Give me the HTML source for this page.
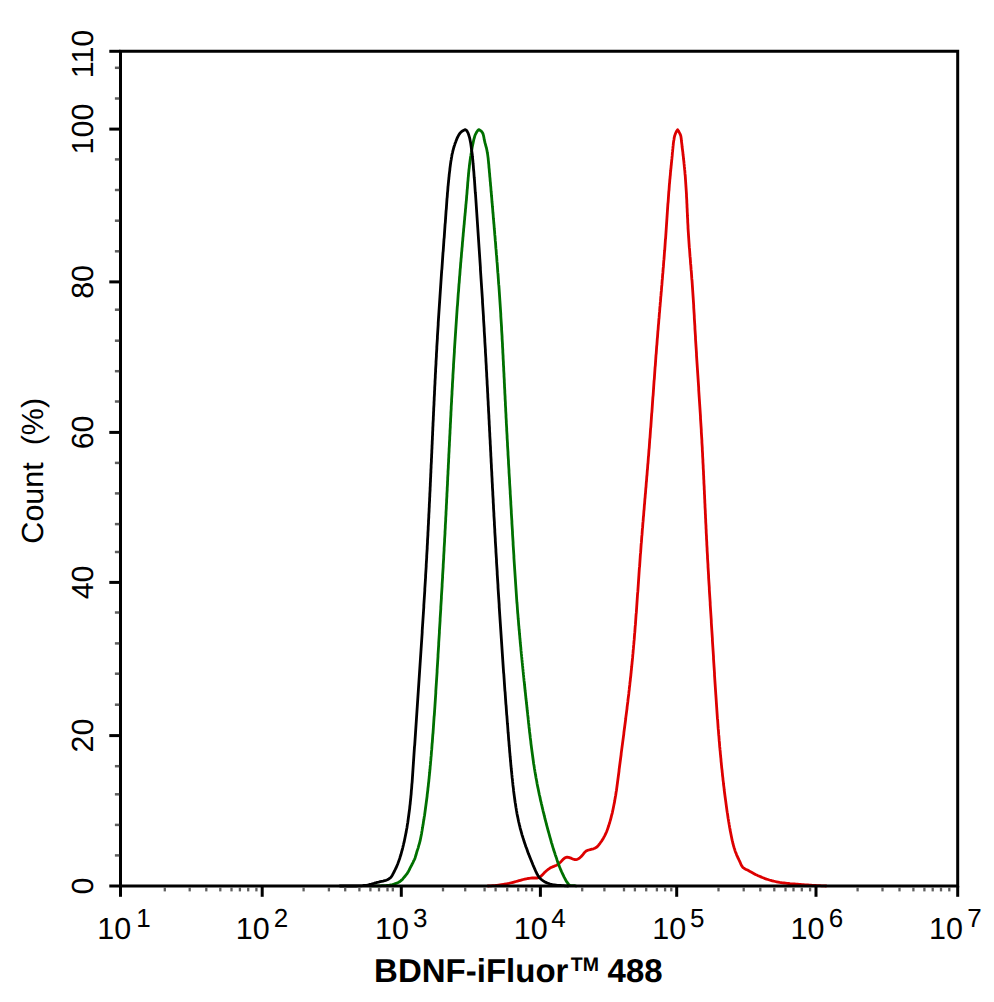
<!DOCTYPE html>
<html><head><meta charset="utf-8"><title>BDNF-iFluor 488 flow cytometry histogram</title><style>
html,body{margin:0;padding:0;background:#fff;width:994px;height:1002px;overflow:hidden}
body{font-family:"Liberation Sans",sans-serif}
svg{display:block;position:absolute;left:0;top:0}
</style></head><body>
<svg width="994" height="1002" viewBox="0 0 994 1002">
<g fill="none" stroke-width="2.80" stroke-linejoin="round" stroke-linecap="round">
<path d="M488.0,886.0 L489.5,885.9 L491.0,885.8 L492.5,885.7 L494.0,885.6 L495.5,885.5 L497.0,885.3 L498.5,885.1 L500.0,884.9 L501.5,884.7 L502.9,884.5 L504.4,884.2 L505.9,884.0 L507.4,883.7 L508.8,883.4 L510.3,883.0 L511.8,882.7 L513.2,882.3 L514.7,881.9 L516.1,881.5 L517.6,881.1 L519.0,880.7 L520.4,880.3 L521.9,879.9 L523.3,879.5 L524.8,879.1 L526.3,878.8 L527.7,878.5 L529.2,878.3 L530.7,878.1 L532.2,878.0 L533.7,878.0 L535.3,878.0 L536.8,878.0 L538.2,877.8 L539.5,877.3 L540.7,876.4 L541.9,875.4 L543.0,874.2 L544.0,873.1 L545.1,872.0 L546.2,871.0 L547.4,870.0 L548.5,869.1 L549.7,868.3 L551.0,867.6 L552.4,866.9 L553.8,866.4 L555.2,865.8 L556.6,865.2 L557.9,864.4 L559.0,863.5 L560.1,862.5 L561.2,861.4 L562.3,860.2 L563.4,859.1 L564.6,858.1 L565.9,857.4 L567.2,857.1 L568.6,857.3 L570.1,857.8 L571.5,858.4 L573.0,859.1 L574.4,859.5 L575.9,859.6 L577.2,859.3 L578.6,858.7 L579.8,857.8 L581.0,856.7 L582.1,855.5 L583.1,854.3 L584.0,853.1 L585.0,852.0 L586.1,851.1 L587.4,850.4 L588.8,850.0 L590.3,849.6 L591.9,849.2 L593.4,848.8 L594.8,848.3 L596.1,847.6 L597.2,846.7 L598.2,845.6 L599.1,844.5 L600.0,843.3 L600.9,842.0 L601.8,840.8 L602.6,839.5 L603.4,838.2 L604.1,836.9 L604.8,835.6 L605.5,834.2 L606.1,832.8 L606.7,831.5 L607.2,830.1 L607.7,828.7 L608.2,827.2 L608.7,825.8 L609.1,824.4 L609.6,823.0 L610.0,821.5 L610.4,820.1 L610.8,818.6 L611.2,817.2 L611.5,815.7 L611.9,814.3 L612.3,812.8 L612.6,811.4 L612.9,809.9 L613.2,808.4 L613.5,807.0 L613.8,805.5 L614.1,804.0 L614.4,802.6 L614.7,801.1 L614.9,799.6 L615.2,798.1 L615.4,796.6 L615.7,795.2 L615.9,793.7 L616.1,792.2 L616.4,790.7 L616.6,789.2 L616.8,787.7 L617.0,786.2 L617.2,784.7 L617.4,783.2 L617.6,781.8 L617.8,780.3 L618.0,778.8 L618.2,777.3 L618.4,775.8 L618.6,774.3 L618.8,772.8 L619.0,771.3 L619.1,769.8 L619.3,768.3 L619.5,766.8 L619.7,765.3 L619.9,763.8 L620.1,762.3 L620.3,760.8 L620.5,759.3 L620.7,757.8 L620.9,756.3 L621.1,754.8 L621.2,753.4 L621.4,751.9 L621.6,750.4 L621.8,748.9 L622.0,747.4 L622.2,745.9 L622.4,744.4 L622.6,742.9 L622.8,741.4 L623.0,739.9 L623.2,738.4 L623.4,736.9 L623.6,735.4 L623.8,734.0 L623.9,732.5 L624.1,731.0 L624.3,729.5 L624.5,728.0 L624.7,726.5 L624.9,725.0 L625.1,723.5 L625.3,722.0 L625.5,720.5 L625.7,719.0 L625.8,717.6 L626.0,716.1 L626.2,714.6 L626.4,713.1 L626.6,711.6 L626.8,710.1 L627.0,708.6 L627.1,707.1 L627.3,705.6 L627.5,704.1 L627.7,702.6 L627.9,701.2 L628.0,699.7 L628.2,698.2 L628.4,696.7 L628.6,695.2 L628.8,693.7 L628.9,692.2 L629.1,690.7 L629.3,689.2 L629.4,687.7 L629.6,686.2 L629.8,684.7 L629.9,683.3 L630.1,681.8 L630.3,680.3 L630.4,678.8 L630.6,677.3 L630.8,675.8 L630.9,674.3 L631.1,672.8 L631.2,671.3 L631.4,669.8 L631.5,668.3 L631.7,666.8 L631.8,665.3 L632.0,663.8 L632.1,662.3 L632.3,660.8 L632.4,659.4 L632.6,657.9 L632.7,656.4 L632.8,654.9 L633.0,653.4 L633.1,651.9 L633.2,650.4 L633.4,648.9 L633.5,647.4 L633.6,645.9 L633.8,644.4 L633.9,642.9 L634.0,641.4 L634.2,639.9 L634.3,638.4 L634.4,636.9 L634.5,635.4 L634.6,633.9 L634.8,632.4 L634.9,630.9 L635.0,629.4 L635.1,627.9 L635.2,626.4 L635.4,624.9 L635.5,623.4 L635.6,621.9 L635.7,620.4 L635.8,618.9 L635.9,617.4 L636.0,615.9 L636.1,614.4 L636.3,612.9 L636.4,611.4 L636.5,609.9 L636.6,608.4 L636.7,606.9 L636.8,605.4 L636.9,603.9 L637.0,602.4 L637.1,600.9 L637.2,599.4 L637.3,597.9 L637.4,596.4 L637.5,594.9 L637.6,593.4 L637.8,591.9 L637.9,590.4 L638.0,588.9 L638.1,587.4 L638.2,585.9 L638.3,584.4 L638.4,582.9 L638.5,581.4 L638.6,579.9 L638.7,578.4 L638.8,576.9 L638.9,575.4 L639.0,573.9 L639.1,572.4 L639.2,570.9 L639.3,569.4 L639.4,567.9 L639.6,566.4 L639.7,564.9 L639.8,563.4 L639.9,561.9 L640.0,560.4 L640.1,558.9 L640.2,557.4 L640.3,555.9 L640.4,554.4 L640.6,552.9 L640.7,551.4 L640.8,549.9 L640.9,548.4 L641.0,546.9 L641.1,545.4 L641.2,543.9 L641.4,542.4 L641.5,540.9 L641.6,539.4 L641.7,537.9 L641.8,536.4 L642.0,534.9 L642.1,533.4 L642.2,531.9 L642.3,530.4 L642.4,528.9 L642.6,527.4 L642.7,525.9 L642.8,524.4 L642.9,522.9 L643.1,521.4 L643.2,519.9 L643.3,518.4 L643.4,517.0 L643.6,515.5 L643.7,514.0 L643.8,512.5 L643.9,511.0 L644.1,509.5 L644.2,508.0 L644.3,506.5 L644.4,505.0 L644.6,503.5 L644.7,502.0 L644.8,500.5 L644.9,499.0 L645.1,497.5 L645.2,496.0 L645.3,494.5 L645.5,493.0 L645.6,491.5 L645.7,490.0 L645.8,488.5 L646.0,487.0 L646.1,485.5 L646.2,484.0 L646.3,482.5 L646.5,481.0 L646.6,479.5 L646.7,478.0 L646.8,476.5 L647.0,475.0 L647.1,473.5 L647.2,472.0 L647.3,470.5 L647.5,469.0 L647.6,467.5 L647.7,466.0 L647.8,464.5 L648.0,463.0 L648.1,461.5 L648.2,460.0 L648.3,458.5 L648.4,457.0 L648.6,455.6 L648.7,454.1 L648.8,452.6 L648.9,451.1 L649.0,449.6 L649.2,448.1 L649.3,446.6 L649.4,445.1 L649.5,443.6 L649.6,442.1 L649.7,440.6 L649.8,439.1 L650.0,437.6 L650.1,436.1 L650.2,434.6 L650.3,433.1 L650.4,431.6 L650.5,430.1 L650.6,428.6 L650.8,427.1 L650.9,425.6 L651.0,424.1 L651.1,422.6 L651.2,421.1 L651.3,419.6 L651.4,418.1 L651.5,416.6 L651.6,415.1 L651.7,413.6 L651.9,412.1 L652.0,410.6 L652.1,409.1 L652.2,407.6 L652.3,406.1 L652.4,404.6 L652.5,403.1 L652.6,401.6 L652.7,400.1 L652.8,398.6 L652.9,397.1 L653.1,395.6 L653.2,394.1 L653.3,392.6 L653.4,391.1 L653.5,389.6 L653.6,388.1 L653.7,386.6 L653.8,385.1 L653.9,383.6 L654.0,382.1 L654.1,380.6 L654.3,379.1 L654.4,377.6 L654.5,376.1 L654.6,374.6 L654.7,373.1 L654.8,371.6 L654.9,370.1 L655.0,368.6 L655.1,367.1 L655.3,365.6 L655.4,364.1 L655.5,362.6 L655.6,361.1 L655.7,359.6 L655.8,358.1 L655.9,356.6 L656.0,355.1 L656.2,353.6 L656.3,352.1 L656.4,350.6 L656.5,349.1 L656.6,347.6 L656.7,346.1 L656.9,344.6 L657.0,343.1 L657.1,341.6 L657.2,340.1 L657.3,338.6 L657.5,337.1 L657.6,335.6 L657.7,334.1 L657.8,332.6 L657.9,331.1 L658.1,329.6 L658.2,328.1 L658.3,326.6 L658.4,325.1 L658.6,323.6 L658.7,322.2 L658.8,320.7 L658.9,319.2 L659.1,317.7 L659.2,316.2 L659.3,314.7 L659.4,313.2 L659.6,311.7 L659.7,310.2 L659.8,308.7 L659.9,307.2 L660.1,305.7 L660.2,304.2 L660.3,302.7 L660.5,301.2 L660.6,299.7 L660.7,298.2 L660.8,296.7 L661.0,295.2 L661.1,293.7 L661.2,292.2 L661.4,290.7 L661.5,289.2 L661.6,287.7 L661.7,286.2 L661.9,284.7 L662.0,283.2 L662.1,281.7 L662.2,280.2 L662.4,278.7 L662.5,277.2 L662.6,275.7 L662.7,274.2 L662.9,272.7 L663.0,271.2 L663.1,269.7 L663.2,268.2 L663.4,266.7 L663.5,265.2 L663.6,263.7 L663.7,262.2 L663.8,260.7 L664.0,259.2 L664.1,257.7 L664.2,256.3 L664.3,254.8 L664.4,253.3 L664.5,251.8 L664.7,250.3 L664.8,248.8 L664.9,247.3 L665.0,245.8 L665.1,244.3 L665.2,242.8 L665.3,241.3 L665.4,239.8 L665.6,238.3 L665.7,236.8 L665.8,235.3 L665.9,233.8 L666.0,232.3 L666.1,230.8 L666.2,229.3 L666.3,227.8 L666.4,226.3 L666.5,224.8 L666.6,223.3 L666.7,221.8 L666.8,220.3 L666.9,218.8 L667.0,217.3 L667.1,215.8 L667.2,214.3 L667.3,212.8 L667.4,211.3 L667.5,209.8 L667.6,208.3 L667.7,206.8 L667.8,205.3 L667.9,203.8 L668.1,202.3 L668.2,200.8 L668.3,199.3 L668.4,197.8 L668.5,196.3 L668.6,194.8 L668.7,193.3 L668.8,191.8 L669.0,190.3 L669.1,188.8 L669.2,187.3 L669.3,185.8 L669.4,184.3 L669.6,182.8 L669.7,181.3 L669.8,179.8 L670.0,178.3 L670.1,176.8 L670.3,175.3 L670.4,173.8 L670.5,172.3 L670.7,170.8 L670.8,169.3 L671.0,167.8 L671.1,166.3 L671.3,164.8 L671.4,163.3 L671.6,161.8 L671.7,160.3 L671.9,158.9 L672.0,157.4 L672.2,155.9 L672.3,154.4 L672.4,152.9 L672.6,151.4 L672.7,149.9 L672.9,148.4 L673.0,146.9 L673.2,145.4 L673.3,143.9 L673.5,142.4 L673.7,140.9 L674.0,139.4 L674.2,137.9 L674.5,136.5 L674.9,135.1 L675.4,133.7 L676.0,132.3 L676.7,131.0 L677.6,129.7 L678.5,131.0 L679.2,132.3 L679.9,133.6 L680.5,135.0 L680.9,136.4 L681.1,137.8 L681.3,139.3 L681.4,140.8 L681.6,142.3 L681.8,143.8 L682.0,145.3 L682.1,146.8 L682.3,148.3 L682.5,149.8 L682.7,151.3 L682.9,152.8 L683.0,154.3 L683.2,155.8 L683.4,157.3 L683.5,158.8 L683.7,160.2 L683.9,161.7 L684.0,163.2 L684.2,164.7 L684.3,166.2 L684.5,167.7 L684.6,169.2 L684.8,170.7 L684.9,172.2 L685.0,173.7 L685.2,175.2 L685.3,176.7 L685.4,178.2 L685.5,179.7 L685.6,181.2 L685.7,182.7 L685.8,184.2 L685.9,185.7 L686.0,187.2 L686.1,188.7 L686.2,190.2 L686.3,191.7 L686.4,193.2 L686.5,194.7 L686.5,196.2 L686.6,197.7 L686.7,199.2 L686.8,200.7 L686.8,202.2 L686.9,203.7 L687.0,205.2 L687.0,206.7 L687.1,208.2 L687.2,209.7 L687.2,211.2 L687.3,212.7 L687.4,214.2 L687.4,215.7 L687.5,217.2 L687.6,218.7 L687.7,220.2 L687.7,221.7 L687.8,223.2 L687.9,224.7 L688.0,226.2 L688.0,227.7 L688.1,229.2 L688.2,230.7 L688.3,232.2 L688.4,233.7 L688.5,235.2 L688.6,236.7 L688.7,238.2 L688.8,239.7 L688.9,241.2 L689.0,242.7 L689.1,244.2 L689.2,245.7 L689.3,247.2 L689.5,248.7 L689.6,250.2 L689.7,251.7 L689.8,253.2 L689.9,254.7 L690.0,256.2 L690.2,257.7 L690.3,259.2 L690.4,260.7 L690.5,262.2 L690.6,263.7 L690.8,265.2 L690.9,266.7 L691.0,268.2 L691.1,269.7 L691.3,271.2 L691.4,272.7 L691.5,274.2 L691.6,275.7 L691.7,277.2 L691.8,278.7 L692.0,280.2 L692.1,281.7 L692.2,283.2 L692.3,284.7 L692.4,286.2 L692.5,287.7 L692.6,289.2 L692.7,290.7 L692.8,292.2 L692.9,293.7 L693.0,295.2 L693.1,296.7 L693.2,298.2 L693.3,299.7 L693.4,301.2 L693.5,302.7 L693.6,304.2 L693.7,305.7 L693.7,307.2 L693.8,308.7 L693.9,310.2 L694.0,311.7 L694.1,313.2 L694.2,314.7 L694.3,316.2 L694.3,317.7 L694.4,319.2 L694.5,320.7 L694.6,322.2 L694.7,323.7 L694.8,325.2 L694.9,326.7 L694.9,328.2 L695.0,329.7 L695.1,331.2 L695.2,332.7 L695.3,334.2 L695.4,335.7 L695.5,337.2 L695.5,338.7 L695.6,340.2 L695.7,341.7 L695.8,343.2 L695.9,344.7 L696.0,346.2 L696.1,347.7 L696.2,349.2 L696.3,350.7 L696.4,352.2 L696.5,353.7 L696.5,355.2 L696.6,356.7 L696.7,358.2 L696.8,359.7 L696.9,361.2 L697.0,362.7 L697.1,364.2 L697.2,365.7 L697.3,367.2 L697.4,368.7 L697.5,370.2 L697.6,371.7 L697.7,373.2 L697.8,374.7 L697.9,376.2 L698.0,377.7 L698.1,379.2 L698.2,380.7 L698.3,382.2 L698.4,383.7 L698.5,385.2 L698.6,386.7 L698.7,388.2 L698.7,389.7 L698.8,391.2 L698.9,392.7 L699.0,394.2 L699.1,395.7 L699.2,397.2 L699.3,398.7 L699.4,400.2 L699.5,401.7 L699.6,403.2 L699.7,404.7 L699.8,406.2 L699.9,407.7 L700.0,409.2 L700.1,410.7 L700.2,412.2 L700.3,413.7 L700.4,415.2 L700.5,416.7 L700.5,418.2 L700.6,419.7 L700.7,421.2 L700.8,422.7 L700.9,424.2 L701.0,425.7 L701.1,427.2 L701.2,428.7 L701.3,430.2 L701.3,431.7 L701.4,433.2 L701.5,434.7 L701.6,436.2 L701.7,437.7 L701.8,439.2 L701.9,440.7 L701.9,442.2 L702.0,443.7 L702.1,445.2 L702.2,446.7 L702.3,448.2 L702.3,449.7 L702.4,451.2 L702.5,452.7 L702.6,454.2 L702.6,455.7 L702.7,457.2 L702.8,458.7 L702.9,460.2 L702.9,461.7 L703.0,463.2 L703.1,464.7 L703.2,466.2 L703.2,467.7 L703.3,469.2 L703.4,470.7 L703.5,472.2 L703.5,473.7 L703.6,475.2 L703.7,476.7 L703.7,478.2 L703.8,479.7 L703.9,481.2 L703.9,482.7 L704.0,484.2 L704.1,485.7 L704.2,487.2 L704.2,488.7 L704.3,490.2 L704.4,491.7 L704.4,493.2 L704.5,494.7 L704.6,496.2 L704.6,497.7 L704.7,499.2 L704.8,500.7 L704.8,502.2 L704.9,503.7 L705.0,505.2 L705.0,506.7 L705.1,508.2 L705.2,509.7 L705.3,511.2 L705.3,512.7 L705.4,514.2 L705.5,515.7 L705.5,517.2 L705.6,518.7 L705.7,520.2 L705.7,521.7 L705.8,523.2 L705.9,524.7 L706.0,526.2 L706.0,527.7 L706.1,529.2 L706.2,530.7 L706.2,532.2 L706.3,533.7 L706.4,535.2 L706.5,536.7 L706.5,538.2 L706.6,539.7 L706.7,541.2 L706.8,542.7 L706.8,544.2 L706.9,545.7 L707.0,547.2 L707.1,548.7 L707.1,550.2 L707.2,551.7 L707.3,553.2 L707.4,554.7 L707.5,556.2 L707.5,557.7 L707.6,559.2 L707.7,560.7 L707.8,562.2 L707.9,563.7 L708.0,565.2 L708.0,566.7 L708.1,568.2 L708.2,569.7 L708.3,571.2 L708.4,572.8 L708.5,574.3 L708.6,575.8 L708.6,577.3 L708.7,578.8 L708.8,580.3 L708.9,581.8 L709.0,583.3 L709.1,584.8 L709.2,586.3 L709.3,587.8 L709.3,589.3 L709.4,590.8 L709.5,592.3 L709.6,593.8 L709.7,595.3 L709.8,596.8 L709.9,598.3 L710.0,599.8 L710.1,601.3 L710.2,602.8 L710.2,604.3 L710.3,605.8 L710.4,607.3 L710.5,608.8 L710.6,610.3 L710.7,611.8 L710.8,613.3 L710.9,614.8 L711.0,616.3 L711.1,617.8 L711.2,619.3 L711.3,620.8 L711.3,622.3 L711.4,623.8 L711.5,625.3 L711.6,626.8 L711.7,628.3 L711.8,629.8 L711.9,631.3 L712.0,632.8 L712.1,634.3 L712.2,635.8 L712.3,637.3 L712.4,638.8 L712.4,640.3 L712.5,641.8 L712.6,643.3 L712.7,644.8 L712.8,646.3 L712.9,647.8 L713.0,649.3 L713.1,650.8 L713.2,652.3 L713.3,653.8 L713.4,655.3 L713.5,656.8 L713.5,658.3 L713.6,659.8 L713.7,661.3 L713.8,662.8 L713.9,664.3 L714.0,665.8 L714.1,667.3 L714.2,668.8 L714.3,670.3 L714.4,671.8 L714.5,673.3 L714.5,674.8 L714.6,676.3 L714.7,677.8 L714.8,679.3 L714.9,680.8 L715.0,682.3 L715.1,683.8 L715.2,685.3 L715.3,686.8 L715.4,688.3 L715.5,689.8 L715.6,691.3 L715.7,692.8 L715.8,694.3 L715.9,695.7 L716.0,697.2 L716.1,698.7 L716.2,700.2 L716.3,701.7 L716.4,703.2 L716.5,704.7 L716.6,706.2 L716.7,707.7 L716.8,709.2 L716.9,710.7 L717.0,712.2 L717.1,713.7 L717.2,715.2 L717.3,716.7 L717.4,718.2 L717.6,719.7 L717.7,721.2 L717.8,722.7 L717.9,724.2 L718.0,725.7 L718.1,727.2 L718.2,728.7 L718.4,730.2 L718.5,731.7 L718.6,733.2 L718.7,734.7 L718.9,736.2 L719.0,737.7 L719.1,739.2 L719.2,740.7 L719.4,742.2 L719.5,743.7 L719.6,745.2 L719.7,746.7 L719.9,748.2 L720.0,749.7 L720.2,751.2 L720.3,752.6 L720.4,754.1 L720.6,755.6 L720.7,757.1 L720.9,758.6 L721.0,760.1 L721.1,761.6 L721.3,763.1 L721.4,764.6 L721.6,766.1 L721.7,767.6 L721.9,769.1 L722.1,770.6 L722.2,772.1 L722.4,773.6 L722.5,775.1 L722.7,776.6 L722.9,778.1 L723.0,779.6 L723.2,781.1 L723.4,782.6 L723.5,784.0 L723.7,785.5 L723.9,787.0 L724.1,788.5 L724.2,790.0 L724.4,791.5 L724.6,793.0 L724.8,794.5 L725.0,796.0 L725.2,797.5 L725.4,799.0 L725.6,800.4 L725.8,801.9 L726.0,803.4 L726.2,804.9 L726.4,806.4 L726.6,807.9 L726.8,809.4 L727.0,810.9 L727.2,812.3 L727.5,813.8 L727.7,815.3 L727.9,816.8 L728.1,818.3 L728.4,819.8 L728.6,821.2 L728.9,822.7 L729.1,824.2 L729.4,825.7 L729.6,827.2 L729.9,828.6 L730.1,830.1 L730.4,831.6 L730.7,833.1 L731.0,834.6 L731.3,836.0 L731.6,837.5 L731.9,839.0 L732.2,840.4 L732.6,841.9 L732.9,843.4 L733.3,844.8 L733.7,846.3 L734.1,847.7 L734.6,849.1 L735.0,850.6 L735.5,852.0 L736.1,853.4 L736.6,854.8 L737.2,856.1 L737.8,857.5 L738.5,858.9 L739.1,860.2 L739.8,861.6 L740.4,863.0 L741.0,864.4 L741.7,865.8 L742.5,866.9 L743.5,867.9 L744.8,868.7 L746.1,869.4 L747.5,870.1 L748.8,870.8 L750.1,871.6 L751.5,872.3 L752.8,873.0 L754.1,873.7 L755.4,874.4 L756.8,875.1 L758.1,875.7 L759.5,876.3 L760.9,876.9 L762.3,877.5 L763.7,878.0 L765.1,878.6 L766.5,879.1 L767.9,879.5 L769.4,880.0 L770.8,880.4 L772.2,880.8 L773.7,881.2 L775.2,881.5 L776.6,881.8 L778.1,882.1 L779.6,882.4 L781.0,882.6 L782.5,882.8 L784.0,883.0 L785.5,883.2 L787.0,883.4 L788.5,883.5 L790.0,883.7 L791.5,883.8 L793.0,883.9 L794.5,884.0 L796.0,884.1 L797.5,884.2 L799.0,884.4 L800.5,884.5 L802.0,884.6 L803.5,884.7 L805.0,884.8 L806.5,884.9 L808.0,885.0 L809.5,885.1 L811.0,885.2 L812.5,885.3 L814.0,885.4 L815.5,885.5 L817.0,885.6 L818.5,885.7 L820.0,885.7 L821.5,885.8 L823.0,885.9 L824.5,885.9 L826.0,886.0" stroke="#dd0000" />
<path d="M370.0,886.0 L371.5,885.9 L373.0,885.9 L374.5,885.9 L376.0,885.8 L377.5,885.8 L379.0,885.8 L380.5,885.8 L382.0,885.7 L383.5,885.7 L385.0,885.6 L386.5,885.5 L388.0,885.3 L389.5,885.1 L391.0,884.8 L392.5,884.5 L393.9,884.1 L395.4,883.6 L396.8,883.1 L398.2,882.5 L399.5,881.8 L400.7,880.9 L401.8,879.9 L402.8,878.9 L403.8,877.7 L404.8,876.5 L405.7,875.4 L406.7,874.2 L407.5,872.9 L408.3,871.7 L409.0,870.3 L409.7,869.0 L410.3,867.7 L411.0,866.3 L411.7,865.0 L412.4,863.6 L413.1,862.3 L413.7,860.9 L414.4,859.6 L415.0,858.2 L415.4,856.8 L415.9,855.3 L416.3,853.9 L416.7,852.4 L417.1,851.0 L417.6,849.6 L418.1,848.1 L418.5,846.7 L418.9,845.2 L419.3,843.8 L419.7,842.3 L420.1,840.9 L420.4,839.4 L420.7,837.9 L421.0,836.5 L421.3,835.0 L421.6,833.5 L421.8,832.0 L422.1,830.5 L422.3,829.1 L422.6,827.6 L422.8,826.1 L423.1,824.6 L423.3,823.1 L423.5,821.6 L423.8,820.1 L424.0,818.7 L424.2,817.2 L424.5,815.7 L424.7,814.2 L424.9,812.7 L425.1,811.2 L425.3,809.7 L425.5,808.2 L425.7,806.7 L425.9,805.2 L426.1,803.8 L426.3,802.3 L426.5,800.8 L426.7,799.3 L426.9,797.8 L427.1,796.3 L427.2,794.8 L427.4,793.3 L427.6,791.8 L427.8,790.3 L427.9,788.8 L428.1,787.3 L428.3,785.8 L428.4,784.3 L428.6,782.8 L428.8,781.3 L428.9,779.8 L429.1,778.3 L429.2,776.8 L429.4,775.3 L429.5,773.8 L429.7,772.3 L429.8,770.8 L430.0,769.3 L430.1,767.9 L430.2,766.4 L430.4,764.9 L430.5,763.4 L430.6,761.9 L430.8,760.4 L430.9,758.9 L431.0,757.4 L431.2,755.9 L431.3,754.4 L431.4,752.9 L431.5,751.4 L431.7,749.9 L431.8,748.3 L431.9,746.8 L432.0,745.3 L432.1,743.8 L432.3,742.3 L432.4,740.8 L432.5,739.3 L432.6,737.8 L432.7,736.3 L432.8,734.8 L433.0,733.3 L433.1,731.8 L433.2,730.3 L433.3,728.8 L433.4,727.3 L433.5,725.8 L433.6,724.3 L433.7,722.8 L433.8,721.3 L433.9,719.8 L434.0,718.3 L434.1,716.8 L434.3,715.3 L434.4,713.8 L434.5,712.3 L434.6,710.8 L434.7,709.3 L434.8,707.8 L434.9,706.3 L435.0,704.8 L435.1,703.3 L435.2,701.8 L435.3,700.3 L435.4,698.8 L435.5,697.3 L435.6,695.8 L435.7,694.3 L435.8,692.8 L435.8,691.3 L435.9,689.8 L436.0,688.3 L436.1,686.8 L436.2,685.3 L436.3,683.8 L436.4,682.3 L436.5,680.8 L436.6,679.3 L436.7,677.8 L436.8,676.3 L436.9,674.8 L437.0,673.3 L437.1,671.8 L437.1,670.3 L437.2,668.8 L437.3,667.3 L437.4,665.8 L437.5,664.3 L437.6,662.8 L437.7,661.2 L437.8,659.7 L437.9,658.2 L438.0,656.7 L438.0,655.2 L438.1,653.7 L438.2,652.2 L438.3,650.7 L438.4,649.2 L438.5,647.7 L438.6,646.2 L438.7,644.7 L438.7,643.2 L438.8,641.7 L438.9,640.2 L439.0,638.7 L439.1,637.2 L439.2,635.7 L439.3,634.2 L439.4,632.7 L439.4,631.2 L439.5,629.7 L439.6,628.2 L439.7,626.7 L439.8,625.2 L439.9,623.7 L440.0,622.2 L440.1,620.7 L440.1,619.2 L440.2,617.7 L440.3,616.2 L440.4,614.7 L440.5,613.2 L440.6,611.7 L440.7,610.2 L440.8,608.7 L440.8,607.2 L440.9,605.7 L441.0,604.2 L441.1,602.7 L441.2,601.1 L441.3,599.6 L441.4,598.1 L441.4,596.6 L441.5,595.1 L441.6,593.6 L441.7,592.1 L441.8,590.6 L441.9,589.1 L442.0,587.6 L442.1,586.1 L442.1,584.6 L442.2,583.1 L442.3,581.6 L442.4,580.1 L442.5,578.6 L442.6,577.1 L442.6,575.6 L442.7,574.1 L442.8,572.6 L442.9,571.1 L443.0,569.6 L443.1,568.1 L443.2,566.6 L443.2,565.1 L443.3,563.6 L443.4,562.1 L443.5,560.6 L443.6,559.1 L443.7,557.6 L443.7,556.1 L443.8,554.6 L443.9,553.1 L444.0,551.6 L444.1,550.1 L444.1,548.5 L444.2,547.0 L444.3,545.5 L444.4,544.0 L444.5,542.5 L444.6,541.0 L444.6,539.5 L444.7,538.0 L444.8,536.5 L444.9,535.0 L445.0,533.5 L445.0,532.0 L445.1,530.5 L445.2,529.0 L445.3,527.5 L445.3,526.0 L445.4,524.5 L445.5,523.0 L445.6,521.5 L445.7,520.0 L445.7,518.5 L445.8,517.0 L445.9,515.5 L446.0,514.0 L446.0,512.5 L446.1,511.0 L446.2,509.5 L446.3,508.0 L446.3,506.5 L446.4,505.0 L446.5,503.5 L446.6,501.9 L446.6,500.4 L446.7,498.9 L446.8,497.4 L446.9,495.9 L446.9,494.4 L447.0,492.9 L447.1,491.4 L447.2,489.9 L447.2,488.4 L447.3,486.9 L447.4,485.4 L447.5,483.9 L447.5,482.4 L447.6,480.9 L447.7,479.4 L447.7,477.9 L447.8,476.4 L447.9,474.9 L448.0,473.4 L448.0,471.9 L448.1,470.4 L448.2,468.9 L448.3,467.4 L448.3,465.9 L448.4,464.4 L448.5,462.9 L448.6,461.4 L448.6,459.8 L448.7,458.3 L448.8,456.8 L448.8,455.3 L448.9,453.8 L449.0,452.3 L449.1,450.8 L449.1,449.3 L449.2,447.8 L449.3,446.3 L449.4,444.8 L449.4,443.3 L449.5,441.8 L449.6,440.3 L449.7,438.8 L449.7,437.3 L449.8,435.8 L449.9,434.3 L450.0,432.8 L450.0,431.3 L450.1,429.8 L450.2,428.3 L450.3,426.8 L450.3,425.3 L450.4,423.8 L450.5,422.3 L450.6,420.8 L450.6,419.3 L450.7,417.8 L450.8,416.2 L450.9,414.7 L450.9,413.2 L451.0,411.7 L451.1,410.2 L451.2,408.7 L451.2,407.2 L451.3,405.7 L451.4,404.2 L451.5,402.7 L451.6,401.2 L451.6,399.7 L451.7,398.2 L451.8,396.7 L451.9,395.2 L452.0,393.7 L452.0,392.2 L452.1,390.7 L452.2,389.2 L452.3,387.7 L452.4,386.2 L452.4,384.7 L452.5,383.2 L452.6,381.7 L452.7,380.2 L452.8,378.7 L452.9,377.2 L452.9,375.7 L453.0,374.2 L453.1,372.7 L453.2,371.2 L453.3,369.7 L453.4,368.2 L453.5,366.7 L453.5,365.1 L453.6,363.6 L453.7,362.1 L453.8,360.6 L453.9,359.1 L454.0,357.6 L454.1,356.1 L454.2,354.6 L454.3,353.1 L454.4,351.6 L454.4,350.1 L454.5,348.6 L454.6,347.1 L454.7,345.6 L454.8,344.1 L454.9,342.6 L455.0,341.1 L455.1,339.6 L455.2,338.1 L455.3,336.6 L455.4,335.1 L455.5,333.6 L455.6,332.1 L455.7,330.6 L455.8,329.1 L455.9,327.6 L456.0,326.1 L456.1,324.6 L456.2,323.1 L456.3,321.6 L456.4,320.1 L456.5,318.6 L456.6,317.1 L456.7,315.6 L456.8,314.1 L456.9,312.6 L457.0,311.1 L457.1,309.6 L457.2,308.1 L457.3,306.6 L457.5,305.1 L457.6,303.6 L457.7,302.1 L457.8,300.6 L457.9,299.1 L458.0,297.6 L458.1,296.1 L458.2,294.6 L458.3,293.1 L458.5,291.6 L458.6,290.1 L458.7,288.6 L458.8,287.1 L458.9,285.6 L459.0,284.1 L459.2,282.6 L459.3,281.1 L459.4,279.6 L459.5,278.1 L459.6,276.6 L459.8,275.1 L459.9,273.6 L460.0,272.1 L460.1,270.6 L460.2,269.1 L460.4,267.6 L460.5,266.1 L460.6,264.6 L460.7,263.0 L460.9,261.5 L461.0,260.0 L461.1,258.5 L461.3,257.0 L461.4,255.5 L461.5,254.0 L461.6,252.5 L461.8,251.1 L461.9,249.6 L462.0,248.1 L462.2,246.6 L462.3,245.1 L462.4,243.6 L462.5,242.1 L462.7,240.6 L462.8,239.1 L462.9,237.6 L463.1,236.1 L463.2,234.6 L463.3,233.1 L463.5,231.6 L463.6,230.1 L463.7,228.6 L463.9,227.1 L464.0,225.6 L464.2,224.1 L464.3,222.6 L464.4,221.1 L464.6,219.6 L464.7,218.1 L464.8,216.6 L465.0,215.1 L465.1,213.6 L465.3,212.1 L465.4,210.6 L465.5,209.1 L465.7,207.6 L465.8,206.1 L465.9,204.6 L466.1,203.1 L466.2,201.6 L466.4,200.1 L466.5,198.6 L466.6,197.1 L466.7,195.6 L466.9,194.1 L467.0,192.6 L467.1,191.1 L467.2,189.6 L467.4,188.1 L467.5,186.6 L467.6,185.1 L467.7,183.6 L467.8,182.1 L468.0,180.6 L468.1,179.1 L468.2,177.6 L468.4,176.1 L468.5,174.6 L468.6,173.1 L468.8,171.6 L468.9,170.1 L469.1,168.6 L469.3,167.1 L469.4,165.6 L469.6,164.1 L469.8,162.6 L470.0,161.1 L470.2,159.6 L470.4,158.2 L470.6,156.7 L470.9,155.2 L471.1,153.7 L471.4,152.2 L471.6,150.7 L471.9,149.3 L472.1,147.8 L472.4,146.3 L472.7,144.8 L473.0,143.4 L473.3,141.9 L473.6,140.4 L474.0,138.9 L474.4,137.5 L474.8,136.0 L475.3,134.6 L476.0,133.3 L476.7,132.0 L477.6,130.7 L478.6,129.6 L480.1,130.3 L481.3,131.2 L482.2,132.3 L482.9,133.5 L483.3,134.9 L483.7,136.4 L484.0,137.9 L484.2,139.4 L484.6,141.0 L484.9,142.4 L485.3,143.9 L485.7,145.3 L486.1,146.8 L486.5,148.2 L486.8,149.7 L487.1,151.2 L487.3,152.6 L487.6,154.1 L487.8,155.6 L488.0,157.1 L488.2,158.6 L488.3,160.1 L488.5,161.6 L488.6,163.1 L488.8,164.6 L488.9,166.1 L489.0,167.6 L489.2,169.1 L489.3,170.6 L489.4,172.1 L489.6,173.6 L489.7,175.1 L489.8,176.6 L490.0,178.1 L490.1,179.6 L490.2,181.1 L490.4,182.6 L490.5,184.1 L490.6,185.6 L490.8,187.0 L490.9,188.5 L491.0,190.0 L491.1,191.5 L491.3,193.0 L491.4,194.5 L491.5,196.0 L491.7,197.5 L491.8,199.0 L491.9,200.5 L492.0,202.0 L492.2,203.5 L492.3,205.0 L492.4,206.5 L492.6,208.0 L492.7,209.5 L492.8,211.0 L492.9,212.5 L493.1,214.0 L493.2,215.5 L493.3,217.0 L493.4,218.5 L493.6,220.0 L493.7,221.5 L493.8,223.0 L494.0,224.5 L494.1,226.0 L494.2,227.5 L494.3,229.0 L494.5,230.5 L494.6,231.9 L494.7,233.4 L494.8,234.9 L495.0,236.4 L495.1,237.9 L495.2,239.4 L495.3,240.9 L495.5,242.4 L495.6,243.9 L495.7,245.4 L495.8,246.9 L495.9,248.4 L496.1,249.9 L496.2,251.4 L496.3,252.9 L496.4,254.4 L496.6,255.9 L496.7,257.4 L496.8,258.9 L496.9,260.4 L497.0,261.9 L497.2,263.4 L497.3,264.9 L497.4,266.4 L497.5,267.9 L497.6,269.4 L497.7,270.9 L497.8,272.4 L498.0,273.9 L498.1,275.4 L498.2,276.9 L498.3,278.4 L498.4,279.9 L498.5,281.4 L498.6,282.9 L498.7,284.4 L498.9,285.9 L499.0,287.4 L499.1,288.9 L499.2,290.4 L499.3,291.9 L499.4,293.4 L499.5,294.9 L499.6,296.4 L499.7,297.9 L499.8,299.4 L499.9,300.9 L500.0,302.4 L500.1,303.9 L500.2,305.4 L500.3,306.9 L500.4,308.4 L500.5,309.9 L500.6,311.4 L500.7,312.9 L500.8,314.4 L500.8,315.9 L500.9,317.4 L501.0,318.9 L501.1,320.4 L501.2,321.9 L501.3,323.4 L501.4,324.9 L501.5,326.4 L501.6,327.9 L501.6,329.4 L501.7,330.9 L501.8,332.4 L501.9,333.9 L502.0,335.4 L502.1,336.9 L502.1,338.4 L502.2,339.9 L502.3,341.4 L502.4,342.9 L502.5,344.4 L502.5,345.9 L502.6,347.4 L502.7,348.9 L502.8,350.4 L502.8,351.9 L502.9,353.4 L503.0,354.9 L503.1,356.4 L503.1,357.9 L503.2,359.4 L503.3,360.9 L503.4,362.4 L503.4,363.9 L503.5,365.4 L503.6,366.9 L503.7,368.4 L503.7,369.9 L503.8,371.4 L503.9,372.9 L504.0,374.4 L504.0,375.9 L504.1,377.4 L504.2,378.9 L504.3,380.4 L504.3,381.9 L504.4,383.4 L504.5,384.9 L504.5,386.4 L504.6,387.9 L504.7,389.4 L504.8,390.9 L504.8,392.4 L504.9,393.9 L505.0,395.4 L505.1,396.9 L505.1,398.4 L505.2,399.9 L505.3,401.4 L505.4,403.0 L505.4,404.5 L505.5,406.0 L505.6,407.5 L505.7,409.0 L505.7,410.5 L505.8,412.0 L505.9,413.5 L506.0,415.0 L506.0,416.5 L506.1,418.0 L506.2,419.5 L506.3,421.0 L506.3,422.5 L506.4,424.0 L506.5,425.5 L506.6,427.0 L506.7,428.5 L506.7,430.0 L506.8,431.5 L506.9,433.0 L507.0,434.5 L507.1,436.0 L507.1,437.5 L507.2,439.0 L507.3,440.5 L507.4,442.0 L507.5,443.5 L507.5,445.0 L507.6,446.5 L507.7,448.0 L507.8,449.5 L507.9,451.0 L508.0,452.5 L508.0,454.0 L508.1,455.5 L508.2,457.0 L508.3,458.5 L508.4,460.0 L508.5,461.5 L508.5,463.0 L508.6,464.5 L508.7,466.0 L508.8,467.5 L508.9,469.0 L509.0,470.5 L509.0,472.0 L509.1,473.5 L509.2,475.0 L509.3,476.5 L509.4,478.0 L509.5,479.5 L509.6,481.0 L509.6,482.5 L509.7,484.0 L509.8,485.5 L509.9,487.0 L510.0,488.5 L510.1,490.0 L510.2,491.5 L510.2,493.0 L510.3,494.5 L510.4,496.0 L510.5,497.5 L510.6,499.0 L510.7,500.5 L510.8,502.0 L510.8,503.5 L510.9,505.0 L511.0,506.5 L511.1,508.0 L511.2,509.5 L511.3,511.0 L511.3,512.5 L511.4,514.0 L511.5,515.5 L511.6,517.0 L511.7,518.5 L511.8,520.0 L511.9,521.5 L511.9,523.0 L512.0,524.5 L512.1,526.0 L512.2,527.5 L512.3,529.0 L512.4,530.5 L512.5,532.0 L512.5,533.5 L512.6,535.0 L512.7,536.5 L512.8,538.0 L512.9,539.5 L513.0,541.0 L513.1,542.5 L513.1,544.0 L513.2,545.5 L513.3,547.0 L513.4,548.5 L513.5,550.0 L513.6,551.5 L513.7,553.0 L513.8,554.5 L513.9,556.0 L513.9,557.5 L514.0,559.0 L514.1,560.5 L514.2,562.0 L514.3,563.5 L514.4,565.0 L514.5,566.5 L514.6,568.0 L514.7,569.5 L514.8,571.0 L514.9,572.5 L515.0,574.0 L515.1,575.5 L515.2,577.0 L515.3,578.5 L515.4,580.0 L515.5,581.5 L515.6,583.0 L515.7,584.5 L515.8,586.0 L515.9,587.5 L516.0,589.0 L516.1,590.5 L516.2,592.0 L516.3,593.5 L516.4,595.0 L516.5,596.5 L516.6,598.0 L516.7,599.5 L516.8,601.0 L516.9,602.5 L517.1,604.0 L517.2,605.5 L517.3,607.0 L517.4,608.5 L517.5,610.0 L517.6,611.5 L517.7,613.0 L517.9,614.5 L518.0,616.0 L518.1,617.5 L518.2,619.0 L518.4,620.5 L518.5,622.0 L518.6,623.5 L518.7,625.0 L518.9,626.5 L519.0,628.0 L519.1,629.5 L519.3,631.0 L519.4,632.5 L519.5,634.0 L519.7,635.5 L519.8,637.0 L519.9,638.5 L520.1,640.0 L520.2,641.5 L520.3,643.0 L520.5,644.5 L520.6,646.0 L520.8,647.4 L520.9,648.9 L521.0,650.4 L521.2,651.9 L521.3,653.4 L521.5,654.9 L521.6,656.4 L521.8,657.9 L521.9,659.4 L522.1,660.9 L522.2,662.4 L522.4,663.9 L522.5,665.4 L522.7,666.9 L522.8,668.4 L523.0,669.9 L523.1,671.4 L523.3,672.9 L523.4,674.4 L523.6,675.9 L523.7,677.4 L523.9,678.9 L524.0,680.4 L524.2,681.8 L524.4,683.3 L524.5,684.8 L524.7,686.3 L524.8,687.8 L525.0,689.3 L525.1,690.8 L525.3,692.3 L525.5,693.8 L525.6,695.3 L525.8,696.8 L525.9,698.3 L526.1,699.8 L526.3,701.3 L526.4,702.8 L526.6,704.3 L526.8,705.8 L526.9,707.3 L527.1,708.8 L527.2,710.3 L527.4,711.7 L527.6,713.2 L527.7,714.7 L527.9,716.2 L528.1,717.7 L528.2,719.2 L528.4,720.7 L528.5,722.2 L528.7,723.7 L528.9,725.2 L529.0,726.7 L529.2,728.2 L529.4,729.7 L529.5,731.2 L529.7,732.7 L529.9,734.2 L530.1,735.7 L530.2,737.2 L530.4,738.6 L530.6,740.1 L530.8,741.6 L530.9,743.1 L531.1,744.6 L531.3,746.1 L531.5,747.6 L531.7,749.1 L531.9,750.6 L532.1,752.1 L532.3,753.6 L532.5,755.1 L532.7,756.5 L532.9,758.0 L533.1,759.5 L533.3,761.0 L533.5,762.5 L533.7,764.0 L534.0,765.5 L534.2,766.9 L534.4,768.4 L534.7,769.9 L534.9,771.4 L535.2,772.9 L535.4,774.4 L535.7,775.8 L535.9,777.3 L536.2,778.8 L536.5,780.3 L536.8,781.7 L537.0,783.2 L537.3,784.7 L537.6,786.2 L537.9,787.6 L538.2,789.1 L538.5,790.6 L538.8,792.1 L539.1,793.5 L539.4,795.0 L539.8,796.5 L540.1,797.9 L540.4,799.4 L540.7,800.9 L541.1,802.3 L541.4,803.8 L541.8,805.3 L542.1,806.7 L542.4,808.2 L542.8,809.6 L543.1,811.1 L543.5,812.6 L543.9,814.0 L544.2,815.5 L544.6,816.9 L544.9,818.4 L545.3,819.9 L545.7,821.3 L546.1,822.8 L546.4,824.2 L546.8,825.7 L547.2,827.1 L547.6,828.6 L548.0,830.1 L548.4,831.5 L548.8,833.0 L549.2,834.4 L549.6,835.9 L550.0,837.3 L550.4,838.7 L550.8,840.2 L551.2,841.6 L551.6,843.1 L552.1,844.5 L552.5,846.0 L552.9,847.4 L553.4,848.8 L553.8,850.3 L554.3,851.7 L554.8,853.1 L555.2,854.6 L555.7,856.0 L556.2,857.4 L556.7,858.8 L557.1,860.2 L557.6,861.7 L558.1,863.1 L558.7,864.5 L559.2,865.9 L559.7,867.3 L560.3,868.7 L560.9,870.1 L561.5,871.5 L562.1,872.8 L562.7,874.2 L563.4,875.5 L564.0,876.9 L564.7,878.2 L565.4,879.6 L566.2,880.9 L567.0,882.2 L567.9,883.4 L568.8,884.6 L570.0,885.4 L571.4,885.7 L573.0,885.7 L574.6,885.7 L576.0,886.0" stroke="#007000" />
<path d="M340.0,886.0 L341.5,886.0 L343.0,886.0 L344.5,886.0 L346.0,886.0 L347.5,886.0 L349.0,886.0 L350.5,886.0 L352.0,886.0 L353.5,886.0 L355.0,886.0 L356.5,886.0 L358.0,885.9 L359.6,885.9 L361.1,885.8 L362.6,885.7 L364.0,885.5 L365.5,885.3 L367.0,885.1 L368.5,884.8 L370.0,884.4 L371.4,884.1 L372.9,883.7 L374.3,883.2 L375.8,882.8 L377.2,882.4 L378.7,882.1 L380.1,881.7 L381.6,881.4 L383.1,881.1 L384.5,880.7 L386.0,880.3 L387.4,879.7 L388.7,879.0 L389.9,878.2 L391.0,877.2 L391.8,876.0 L392.6,874.7 L393.3,873.3 L394.0,872.0 L394.7,870.7 L395.3,869.3 L396.0,868.0 L396.6,866.6 L397.2,865.2 L397.8,863.8 L398.3,862.4 L398.8,861.0 L399.3,859.6 L399.8,858.2 L400.2,856.7 L400.7,855.3 L401.1,853.8 L401.5,852.4 L401.9,850.9 L402.3,849.5 L402.7,848.0 L403.0,846.6 L403.4,845.1 L403.7,843.6 L404.1,842.2 L404.4,840.7 L404.7,839.2 L405.0,837.8 L405.3,836.3 L405.6,834.8 L405.9,833.3 L406.2,831.9 L406.4,830.4 L406.7,828.9 L407.0,827.4 L407.2,825.9 L407.4,824.5 L407.7,823.0 L407.9,821.5 L408.1,820.0 L408.3,818.5 L408.5,817.0 L408.7,815.5 L408.9,814.0 L409.1,812.5 L409.3,811.0 L409.5,809.6 L409.7,808.1 L409.8,806.6 L410.0,805.1 L410.2,803.6 L410.3,802.1 L410.5,800.6 L410.6,799.1 L410.8,797.6 L410.9,796.1 L411.1,794.6 L411.2,793.1 L411.3,791.6 L411.4,790.1 L411.6,788.6 L411.7,787.1 L411.8,785.6 L411.9,784.1 L412.1,782.6 L412.2,781.1 L412.3,779.6 L412.4,778.1 L412.5,776.6 L412.6,775.1 L412.7,773.6 L412.8,772.1 L412.9,770.6 L413.0,769.1 L413.1,767.6 L413.2,766.1 L413.3,764.6 L413.4,763.1 L413.5,761.6 L413.6,760.1 L413.7,758.6 L413.8,757.1 L413.9,755.6 L414.0,754.1 L414.1,752.6 L414.2,751.1 L414.3,749.6 L414.4,748.1 L414.5,746.6 L414.7,745.1 L414.8,743.6 L414.9,742.1 L415.0,740.6 L415.1,739.1 L415.2,737.6 L415.3,736.1 L415.4,734.6 L415.5,733.1 L415.6,731.6 L415.7,730.1 L415.8,728.6 L415.9,727.1 L416.0,725.6 L416.1,724.1 L416.2,722.6 L416.3,721.1 L416.4,719.6 L416.5,718.1 L416.6,716.6 L416.7,715.1 L416.8,713.6 L416.9,712.1 L417.0,710.6 L417.1,709.1 L417.2,707.6 L417.3,706.1 L417.4,704.6 L417.5,703.1 L417.6,701.6 L417.7,700.1 L417.8,698.6 L417.9,697.1 L418.0,695.6 L418.1,694.1 L418.2,692.6 L418.3,691.1 L418.4,689.6 L418.5,688.1 L418.6,686.6 L418.7,685.1 L418.8,683.6 L418.9,682.1 L419.0,680.6 L419.1,679.1 L419.2,677.6 L419.3,676.1 L419.4,674.6 L419.5,673.1 L419.6,671.5 L419.7,670.0 L419.8,668.5 L419.9,667.0 L420.0,665.5 L420.1,664.0 L420.2,662.5 L420.3,661.0 L420.4,659.5 L420.5,658.0 L420.6,656.5 L420.7,655.0 L420.8,653.5 L420.9,652.0 L421.0,650.5 L421.1,649.0 L421.2,647.5 L421.3,646.0 L421.4,644.5 L421.5,643.0 L421.6,641.5 L421.7,640.0 L421.8,638.5 L421.9,637.0 L422.0,635.5 L422.1,634.0 L422.2,632.5 L422.2,631.0 L422.3,629.5 L422.4,628.0 L422.5,626.5 L422.6,625.0 L422.7,623.5 L422.8,622.0 L422.9,620.5 L423.0,619.0 L423.1,617.5 L423.2,616.0 L423.3,614.5 L423.4,613.0 L423.5,611.5 L423.6,610.0 L423.7,608.5 L423.8,607.0 L423.8,605.5 L423.9,604.0 L424.0,602.5 L424.1,601.0 L424.2,599.5 L424.3,598.0 L424.4,596.5 L424.5,595.0 L424.6,593.5 L424.7,592.0 L424.8,590.5 L424.8,589.0 L424.9,587.5 L425.0,586.0 L425.1,584.5 L425.2,583.0 L425.3,581.5 L425.4,580.0 L425.5,578.5 L425.6,577.0 L425.6,575.5 L425.7,574.0 L425.8,572.5 L425.9,571.0 L426.0,569.5 L426.1,568.0 L426.2,566.5 L426.2,565.0 L426.3,563.5 L426.4,562.0 L426.5,560.5 L426.6,559.0 L426.7,557.5 L426.7,556.0 L426.8,554.5 L426.9,552.9 L427.0,551.4 L427.1,549.9 L427.2,548.4 L427.2,546.9 L427.3,545.4 L427.4,543.9 L427.5,542.4 L427.5,540.9 L427.6,539.4 L427.7,537.9 L427.8,536.4 L427.9,534.9 L427.9,533.4 L428.0,531.9 L428.1,530.4 L428.2,528.9 L428.2,527.4 L428.3,525.9 L428.4,524.4 L428.5,522.9 L428.5,521.4 L428.6,519.9 L428.7,518.4 L428.8,516.9 L428.8,515.4 L428.9,513.9 L429.0,512.4 L429.1,510.9 L429.1,509.4 L429.2,507.9 L429.3,506.4 L429.3,504.9 L429.4,503.4 L429.5,501.9 L429.6,500.4 L429.6,498.9 L429.7,497.4 L429.8,495.9 L429.8,494.4 L429.9,492.9 L430.0,491.4 L430.1,489.9 L430.1,488.4 L430.2,486.8 L430.3,485.3 L430.3,483.8 L430.4,482.3 L430.5,480.8 L430.5,479.3 L430.6,477.8 L430.7,476.3 L430.7,474.8 L430.8,473.3 L430.9,471.8 L430.9,470.3 L431.0,468.8 L431.1,467.3 L431.1,465.8 L431.2,464.3 L431.3,462.8 L431.4,461.3 L431.4,459.8 L431.5,458.3 L431.6,456.8 L431.6,455.3 L431.7,453.8 L431.8,452.3 L431.8,450.8 L431.9,449.3 L432.0,447.8 L432.0,446.3 L432.1,444.8 L432.2,443.3 L432.2,441.8 L432.3,440.3 L432.4,438.8 L432.4,437.3 L432.5,435.8 L432.6,434.3 L432.6,432.8 L432.7,431.2 L432.8,429.7 L432.8,428.2 L432.9,426.7 L433.0,425.2 L433.0,423.7 L433.1,422.2 L433.2,420.7 L433.3,419.2 L433.3,417.7 L433.4,416.2 L433.5,414.7 L433.5,413.2 L433.6,411.7 L433.7,410.2 L433.7,408.7 L433.8,407.2 L433.9,405.7 L434.0,404.2 L434.0,402.7 L434.1,401.2 L434.2,399.7 L434.2,398.2 L434.3,396.7 L434.4,395.2 L434.5,393.7 L434.5,392.2 L434.6,390.7 L434.7,389.2 L434.7,387.7 L434.8,386.2 L434.9,384.7 L435.0,383.2 L435.0,381.7 L435.1,380.2 L435.2,378.7 L435.3,377.2 L435.3,375.7 L435.4,374.2 L435.5,372.6 L435.6,371.1 L435.6,369.6 L435.7,368.1 L435.8,366.6 L435.9,365.1 L436.0,363.6 L436.0,362.1 L436.1,360.6 L436.2,359.1 L436.3,357.6 L436.4,356.1 L436.4,354.6 L436.5,353.1 L436.6,351.6 L436.7,350.1 L436.8,348.6 L436.8,347.1 L436.9,345.6 L437.0,344.1 L437.1,342.6 L437.2,341.1 L437.3,339.6 L437.4,338.1 L437.4,336.6 L437.5,335.1 L437.6,333.6 L437.7,332.1 L437.8,330.6 L437.9,329.1 L438.0,327.6 L438.1,326.1 L438.2,324.6 L438.2,323.1 L438.3,321.6 L438.4,320.1 L438.5,318.6 L438.6,317.1 L438.7,315.6 L438.8,314.1 L438.9,312.6 L439.0,311.1 L439.1,309.6 L439.2,308.1 L439.3,306.6 L439.4,305.1 L439.5,303.6 L439.6,302.1 L439.7,300.6 L439.8,299.1 L439.9,297.6 L440.0,296.1 L440.1,294.6 L440.2,293.1 L440.3,291.6 L440.4,290.1 L440.5,288.6 L440.6,287.1 L440.7,285.6 L440.8,284.1 L440.9,282.6 L441.0,281.1 L441.1,279.6 L441.2,278.1 L441.3,276.6 L441.4,275.1 L441.5,273.6 L441.6,272.1 L441.7,270.6 L441.9,269.1 L442.0,267.6 L442.1,266.1 L442.2,264.6 L442.3,263.1 L442.4,261.6 L442.5,260.1 L442.6,258.6 L442.7,257.1 L442.8,255.6 L442.9,254.1 L443.0,252.6 L443.2,251.1 L443.3,249.6 L443.4,248.1 L443.5,246.6 L443.6,245.1 L443.7,243.6 L443.8,242.1 L443.9,240.6 L444.0,239.1 L444.2,237.6 L444.3,236.1 L444.4,234.6 L444.5,233.1 L444.6,231.6 L444.7,230.1 L444.8,228.6 L444.9,227.1 L445.0,225.6 L445.1,224.1 L445.3,222.6 L445.4,221.1 L445.5,219.6 L445.6,218.1 L445.7,216.6 L445.8,215.1 L445.9,213.6 L446.0,212.1 L446.1,210.6 L446.3,209.1 L446.4,207.6 L446.5,206.1 L446.6,204.6 L446.7,203.1 L446.8,201.6 L446.9,200.1 L447.0,198.6 L447.2,197.1 L447.3,195.6 L447.4,194.1 L447.5,192.6 L447.7,191.1 L447.8,189.6 L447.9,188.1 L448.0,186.6 L448.2,185.1 L448.3,183.6 L448.5,182.1 L448.6,180.6 L448.8,179.1 L448.9,177.6 L449.1,176.1 L449.2,174.6 L449.4,173.1 L449.6,171.6 L449.8,170.1 L449.9,168.6 L450.1,167.1 L450.3,165.6 L450.5,164.1 L450.7,162.6 L450.9,161.2 L451.2,159.7 L451.4,158.2 L451.7,156.7 L451.9,155.2 L452.2,153.8 L452.6,152.3 L452.9,150.8 L453.3,149.4 L453.7,147.9 L454.1,146.5 L454.6,145.1 L455.0,143.6 L455.6,142.2 L456.1,140.8 L456.7,139.4 L457.2,138.0 L457.9,136.6 L458.6,135.3 L459.4,134.0 L460.3,132.9 L461.3,131.8 L462.5,130.9 L463.8,130.2 L465.3,129.6 L466.5,130.4 L467.3,131.6 L468.0,132.9 L468.5,134.3 L469.0,135.8 L469.4,137.2 L469.8,138.7 L470.1,140.2 L470.4,141.7 L470.7,143.2 L470.9,144.6 L471.1,146.1 L471.3,147.6 L471.5,149.1 L471.7,150.6 L471.9,152.0 L472.1,153.5 L472.3,155.0 L472.4,156.5 L472.6,158.0 L472.7,159.5 L472.9,161.0 L473.0,162.5 L473.1,164.0 L473.3,165.5 L473.4,167.0 L473.5,168.5 L473.6,170.0 L473.8,171.5 L473.9,173.0 L474.0,174.5 L474.1,176.0 L474.2,177.5 L474.4,179.0 L474.5,180.5 L474.6,182.0 L474.7,183.5 L474.8,185.0 L474.9,186.5 L475.0,188.0 L475.1,189.5 L475.2,191.0 L475.3,192.5 L475.5,194.0 L475.6,195.5 L475.7,197.0 L475.8,198.5 L475.9,200.0 L476.0,201.5 L476.1,203.0 L476.2,204.5 L476.3,206.0 L476.4,207.5 L476.5,209.0 L476.6,210.5 L476.7,212.0 L476.8,213.5 L476.9,215.0 L477.0,216.5 L477.1,218.0 L477.2,219.5 L477.3,221.0 L477.4,222.5 L477.5,224.0 L477.6,225.5 L477.7,227.0 L477.8,228.5 L477.9,230.0 L478.0,231.5 L478.1,233.0 L478.2,234.5 L478.3,236.0 L478.4,237.5 L478.5,239.0 L478.6,240.5 L478.7,242.0 L478.8,243.5 L478.9,245.0 L479.0,246.5 L479.1,248.0 L479.2,249.5 L479.3,251.0 L479.4,252.5 L479.5,254.0 L479.6,255.5 L479.7,257.0 L479.8,258.5 L479.9,260.0 L480.0,261.5 L480.1,263.0 L480.2,264.5 L480.3,266.0 L480.4,267.5 L480.4,269.0 L480.5,270.5 L480.6,272.0 L480.7,273.5 L480.8,275.0 L480.9,276.5 L481.0,278.0 L481.1,279.5 L481.2,281.0 L481.3,282.5 L481.4,284.0 L481.5,285.5 L481.6,287.0 L481.7,288.5 L481.8,290.0 L481.9,291.5 L482.0,293.0 L482.1,294.5 L482.2,296.0 L482.3,297.5 L482.4,299.0 L482.5,300.5 L482.5,302.0 L482.6,303.5 L482.7,305.0 L482.8,306.5 L482.9,308.0 L483.0,309.5 L483.1,311.0 L483.2,312.5 L483.3,314.0 L483.4,315.5 L483.5,317.0 L483.5,318.5 L483.6,320.0 L483.7,321.5 L483.8,323.0 L483.9,324.5 L484.0,326.0 L484.1,327.5 L484.2,329.0 L484.2,330.5 L484.3,332.0 L484.4,333.5 L484.5,335.0 L484.6,336.5 L484.7,338.0 L484.8,339.5 L484.8,341.0 L484.9,342.5 L485.0,344.0 L485.1,345.5 L485.2,347.0 L485.3,348.5 L485.4,350.0 L485.4,351.5 L485.5,353.0 L485.6,354.5 L485.7,356.0 L485.8,357.5 L485.9,359.0 L485.9,360.5 L486.0,362.0 L486.1,363.5 L486.2,365.0 L486.3,366.5 L486.3,368.0 L486.4,369.5 L486.5,371.0 L486.6,372.5 L486.7,374.0 L486.7,375.5 L486.8,377.0 L486.9,378.5 L487.0,380.0 L487.1,381.5 L487.1,383.0 L487.2,384.5 L487.3,386.0 L487.4,387.5 L487.5,389.0 L487.5,390.5 L487.6,392.0 L487.7,393.5 L487.8,395.0 L487.8,396.5 L487.9,398.0 L488.0,399.5 L488.1,401.0 L488.2,402.5 L488.2,404.0 L488.3,405.5 L488.4,407.0 L488.5,408.5 L488.5,410.0 L488.6,411.5 L488.7,413.0 L488.8,414.5 L488.9,416.0 L488.9,417.5 L489.0,419.0 L489.1,420.5 L489.2,422.0 L489.2,423.5 L489.3,425.0 L489.4,426.5 L489.5,428.0 L489.5,429.5 L489.6,431.0 L489.7,432.5 L489.8,434.0 L489.8,435.5 L489.9,437.0 L490.0,438.5 L490.1,440.0 L490.2,441.5 L490.2,443.0 L490.3,444.5 L490.4,446.0 L490.5,447.5 L490.5,449.0 L490.6,450.5 L490.7,452.0 L490.8,453.5 L490.8,455.0 L490.9,456.5 L491.0,458.0 L491.1,459.5 L491.1,461.0 L491.2,462.5 L491.3,464.0 L491.4,465.5 L491.4,467.0 L491.5,468.5 L491.6,470.0 L491.7,471.5 L491.8,473.0 L491.8,474.5 L491.9,476.0 L492.0,477.5 L492.1,479.0 L492.1,480.6 L492.2,482.1 L492.3,483.6 L492.4,485.1 L492.4,486.6 L492.5,488.1 L492.6,489.6 L492.7,491.1 L492.8,492.6 L492.8,494.1 L492.9,495.6 L493.0,497.1 L493.1,498.6 L493.2,500.1 L493.2,501.6 L493.3,503.1 L493.4,504.6 L493.5,506.1 L493.5,507.6 L493.6,509.1 L493.7,510.6 L493.8,512.1 L493.9,513.6 L493.9,515.1 L494.0,516.6 L494.1,518.1 L494.2,519.6 L494.3,521.1 L494.4,522.6 L494.4,524.1 L494.5,525.6 L494.6,527.1 L494.7,528.6 L494.8,530.1 L494.8,531.6 L494.9,533.1 L495.0,534.6 L495.1,536.1 L495.2,537.6 L495.3,539.1 L495.3,540.6 L495.4,542.1 L495.5,543.6 L495.6,545.1 L495.7,546.6 L495.8,548.1 L495.9,549.6 L495.9,551.1 L496.0,552.6 L496.1,554.1 L496.2,555.6 L496.3,557.1 L496.4,558.6 L496.5,560.1 L496.5,561.6 L496.6,563.1 L496.7,564.6 L496.8,566.1 L496.9,567.6 L497.0,569.1 L497.1,570.6 L497.2,572.1 L497.2,573.6 L497.3,575.1 L497.4,576.6 L497.5,578.1 L497.6,579.6 L497.7,581.1 L497.8,582.6 L497.9,584.1 L498.0,585.6 L498.0,587.1 L498.1,588.6 L498.2,590.1 L498.3,591.6 L498.4,593.1 L498.5,594.6 L498.6,596.1 L498.7,597.6 L498.8,599.1 L498.9,600.6 L499.0,602.1 L499.1,603.6 L499.2,605.1 L499.2,606.6 L499.3,608.1 L499.4,609.6 L499.5,611.1 L499.6,612.6 L499.7,614.1 L499.8,615.6 L499.9,617.1 L500.0,618.6 L500.1,620.1 L500.2,621.6 L500.3,623.1 L500.4,624.6 L500.5,626.1 L500.6,627.6 L500.7,629.1 L500.8,630.6 L500.9,632.1 L501.0,633.6 L501.1,635.1 L501.2,636.6 L501.3,638.1 L501.4,639.6 L501.5,641.1 L501.6,642.6 L501.7,644.1 L501.8,645.6 L501.9,647.1 L502.0,648.6 L502.1,650.1 L502.2,651.6 L502.3,653.1 L502.4,654.6 L502.5,656.1 L502.6,657.6 L502.7,659.1 L502.8,660.6 L502.9,662.1 L503.0,663.6 L503.1,665.1 L503.2,666.6 L503.3,668.1 L503.4,669.6 L503.5,671.1 L503.6,672.6 L503.8,674.1 L503.9,675.6 L504.0,677.1 L504.1,678.6 L504.2,680.1 L504.3,681.6 L504.4,683.1 L504.5,684.6 L504.6,686.1 L504.7,687.6 L504.8,689.1 L504.9,690.6 L505.1,692.1 L505.2,693.6 L505.3,695.1 L505.4,696.6 L505.5,698.1 L505.6,699.6 L505.7,701.1 L505.8,702.6 L505.9,704.1 L506.1,705.6 L506.2,707.1 L506.3,708.6 L506.4,710.1 L506.5,711.6 L506.6,713.1 L506.7,714.6 L506.9,716.1 L507.0,717.6 L507.1,719.0 L507.2,720.5 L507.3,722.0 L507.4,723.5 L507.6,725.0 L507.7,726.5 L507.8,728.0 L507.9,729.5 L508.0,731.0 L508.1,732.5 L508.3,734.0 L508.4,735.5 L508.5,737.0 L508.6,738.5 L508.7,740.0 L508.9,741.5 L509.0,743.0 L509.1,744.5 L509.2,746.0 L509.4,747.5 L509.5,749.0 L509.6,750.5 L509.7,752.0 L509.9,753.5 L510.0,755.0 L510.1,756.5 L510.3,758.0 L510.4,759.5 L510.5,761.0 L510.7,762.5 L510.8,764.0 L510.9,765.5 L511.1,767.0 L511.2,768.5 L511.4,770.0 L511.5,771.5 L511.7,772.9 L511.8,774.4 L512.0,775.9 L512.1,777.4 L512.3,778.9 L512.5,780.4 L512.6,781.9 L512.8,783.4 L512.9,784.9 L513.1,786.4 L513.3,787.9 L513.5,789.4 L513.6,790.9 L513.8,792.4 L514.0,793.9 L514.2,795.4 L514.4,796.9 L514.6,798.3 L514.8,799.8 L515.0,801.3 L515.2,802.8 L515.5,804.3 L515.7,805.8 L515.9,807.3 L516.2,808.7 L516.4,810.2 L516.7,811.7 L516.9,813.2 L517.2,814.7 L517.5,816.1 L517.8,817.6 L518.1,819.1 L518.4,820.5 L518.7,822.0 L519.1,823.5 L519.4,824.9 L519.8,826.4 L520.1,827.8 L520.5,829.3 L520.9,830.7 L521.3,832.2 L521.7,833.6 L522.1,835.1 L522.6,836.5 L523.0,837.9 L523.5,839.4 L523.9,840.8 L524.4,842.2 L524.9,843.7 L525.4,845.1 L525.8,846.5 L526.4,847.9 L526.9,849.3 L527.4,850.7 L527.9,852.2 L528.4,853.6 L529.0,855.0 L529.5,856.4 L530.1,857.8 L530.7,859.2 L531.2,860.6 L531.8,862.0 L532.4,863.4 L532.9,864.7 L533.5,866.1 L534.1,867.5 L534.7,868.9 L535.3,870.3 L535.9,871.7 L536.6,873.0 L537.2,874.3 L538.0,875.6 L538.8,876.8 L539.8,878.0 L540.8,879.0 L542.0,880.0 L543.2,880.9 L544.6,881.7 L545.9,882.4 L547.3,883.0 L548.7,883.5 L550.1,884.0 L551.6,884.4 L553.0,884.7 L554.5,884.9 L556.0,885.1 L557.5,885.3 L559.0,885.4 L560.5,885.5 L562.0,885.6 L563.5,885.7 L565.0,885.8 L566.5,885.9 L568.0,886.0" stroke="#000000" />
</g>
<g>
<path d="M120.50,51.30 H957.70 V886.00 H120.50 Z" fill="none" stroke="#000" stroke-width="3" stroke-linejoin="miter"/>
<line x1="109.3" y1="886.00" x2="120.50" y2="886.00" stroke="#000" stroke-width="3"/>
<line x1="109.3" y1="735.60" x2="120.50" y2="735.60" stroke="#000" stroke-width="3"/>
<line x1="109.3" y1="582.40" x2="120.50" y2="582.40" stroke="#000" stroke-width="3"/>
<line x1="109.3" y1="432.40" x2="120.50" y2="432.40" stroke="#000" stroke-width="3"/>
<line x1="109.3" y1="281.90" x2="120.50" y2="281.90" stroke="#000" stroke-width="3"/>
<line x1="109.3" y1="129.10" x2="120.50" y2="129.10" stroke="#000" stroke-width="3"/>
<line x1="109.3" y1="51.30" x2="120.50" y2="51.30" stroke="#000" stroke-width="3"/>
<line x1="114.9" y1="855.40" x2="119.2" y2="855.40" stroke="#606060" stroke-width="2.5"/>
<line x1="114.9" y1="824.90" x2="119.2" y2="824.90" stroke="#606060" stroke-width="2.5"/>
<line x1="114.9" y1="794.30" x2="119.2" y2="794.30" stroke="#606060" stroke-width="2.5"/>
<line x1="114.9" y1="766.20" x2="119.2" y2="766.20" stroke="#606060" stroke-width="2.5"/>
<line x1="114.9" y1="704.70" x2="119.2" y2="704.70" stroke="#606060" stroke-width="2.5"/>
<line x1="114.9" y1="673.70" x2="119.2" y2="673.70" stroke="#606060" stroke-width="2.5"/>
<line x1="114.9" y1="643.40" x2="119.2" y2="643.40" stroke="#606060" stroke-width="2.5"/>
<line x1="114.9" y1="612.50" x2="119.2" y2="612.50" stroke="#606060" stroke-width="2.5"/>
<line x1="114.9" y1="552.00" x2="119.2" y2="552.00" stroke="#606060" stroke-width="2.5"/>
<line x1="114.9" y1="524.10" x2="119.2" y2="524.10" stroke="#606060" stroke-width="2.5"/>
<line x1="114.9" y1="493.40" x2="119.2" y2="493.40" stroke="#606060" stroke-width="2.5"/>
<line x1="114.9" y1="462.90" x2="119.2" y2="462.90" stroke="#606060" stroke-width="2.5"/>
<line x1="114.9" y1="401.50" x2="119.2" y2="401.50" stroke="#606060" stroke-width="2.5"/>
<line x1="114.9" y1="371.20" x2="119.2" y2="371.20" stroke="#606060" stroke-width="2.5"/>
<line x1="114.9" y1="340.70" x2="119.2" y2="340.70" stroke="#606060" stroke-width="2.5"/>
<line x1="114.9" y1="309.70" x2="119.2" y2="309.70" stroke="#606060" stroke-width="2.5"/>
<line x1="114.9" y1="251.30" x2="119.2" y2="251.30" stroke="#606060" stroke-width="2.5"/>
<line x1="114.9" y1="220.70" x2="119.2" y2="220.70" stroke="#606060" stroke-width="2.5"/>
<line x1="114.9" y1="190.00" x2="119.2" y2="190.00" stroke="#606060" stroke-width="2.5"/>
<line x1="114.9" y1="159.40" x2="119.2" y2="159.40" stroke="#606060" stroke-width="2.5"/>
<line x1="114.9" y1="98.50" x2="119.2" y2="98.50" stroke="#606060" stroke-width="2.5"/>
<line x1="114.9" y1="67.80" x2="119.2" y2="67.80" stroke="#606060" stroke-width="2.5"/>
<line x1="120.50" y1="886.00" x2="120.50" y2="896.8" stroke="#000" stroke-width="3"/>
<line x1="262.20" y1="886.00" x2="262.20" y2="896.8" stroke="#000" stroke-width="3"/>
<line x1="401.30" y1="886.00" x2="401.30" y2="896.8" stroke="#000" stroke-width="3"/>
<line x1="540.40" y1="886.00" x2="540.40" y2="896.8" stroke="#000" stroke-width="3"/>
<line x1="676.70" y1="886.00" x2="676.70" y2="896.8" stroke="#000" stroke-width="3"/>
<line x1="816.00" y1="886.00" x2="816.00" y2="896.8" stroke="#000" stroke-width="3"/>
<line x1="957.70" y1="886.00" x2="957.70" y2="896.8" stroke="#000" stroke-width="3"/>
<line x1="164.80" y1="887.4" x2="164.80" y2="891.4" stroke="#606060" stroke-width="2.3"/>
<line x1="189.70" y1="887.4" x2="189.70" y2="891.4" stroke="#606060" stroke-width="2.3"/>
<line x1="206.30" y1="887.4" x2="206.30" y2="891.4" stroke="#606060" stroke-width="2.3"/>
<line x1="220.30" y1="887.4" x2="220.30" y2="891.4" stroke="#606060" stroke-width="2.3"/>
<line x1="231.50" y1="887.4" x2="231.50" y2="891.4" stroke="#606060" stroke-width="2.3"/>
<line x1="239.90" y1="887.4" x2="239.90" y2="891.4" stroke="#606060" stroke-width="2.3"/>
<line x1="248.20" y1="887.4" x2="248.20" y2="891.4" stroke="#606060" stroke-width="2.3"/>
<line x1="256.40" y1="887.4" x2="256.40" y2="891.4" stroke="#606060" stroke-width="2.3"/>
<line x1="303.60" y1="887.4" x2="303.60" y2="891.4" stroke="#606060" stroke-width="2.3"/>
<line x1="328.90" y1="887.4" x2="328.90" y2="891.4" stroke="#606060" stroke-width="2.3"/>
<line x1="345.20" y1="887.4" x2="345.20" y2="891.4" stroke="#606060" stroke-width="2.3"/>
<line x1="359.40" y1="887.4" x2="359.40" y2="891.4" stroke="#606060" stroke-width="2.3"/>
<line x1="370.40" y1="887.4" x2="370.40" y2="891.4" stroke="#606060" stroke-width="2.3"/>
<line x1="379.00" y1="887.4" x2="379.00" y2="891.4" stroke="#606060" stroke-width="2.3"/>
<line x1="387.50" y1="887.4" x2="387.50" y2="891.4" stroke="#606060" stroke-width="2.3"/>
<line x1="392.80" y1="887.4" x2="392.80" y2="891.4" stroke="#606060" stroke-width="2.3"/>
<line x1="443.00" y1="887.4" x2="443.00" y2="891.4" stroke="#606060" stroke-width="2.3"/>
<line x1="465.20" y1="887.4" x2="465.20" y2="891.4" stroke="#606060" stroke-width="2.3"/>
<line x1="484.60" y1="887.4" x2="484.60" y2="891.4" stroke="#606060" stroke-width="2.3"/>
<line x1="495.60" y1="887.4" x2="495.60" y2="891.4" stroke="#606060" stroke-width="2.3"/>
<line x1="507.20" y1="887.4" x2="507.20" y2="891.4" stroke="#606060" stroke-width="2.3"/>
<line x1="518.20" y1="887.4" x2="518.20" y2="891.4" stroke="#606060" stroke-width="2.3"/>
<line x1="526.20" y1="887.4" x2="526.20" y2="891.4" stroke="#606060" stroke-width="2.3"/>
<line x1="532.00" y1="887.4" x2="532.00" y2="891.4" stroke="#606060" stroke-width="2.3"/>
<line x1="582.20" y1="887.4" x2="582.20" y2="891.4" stroke="#606060" stroke-width="2.3"/>
<line x1="604.40" y1="887.4" x2="604.40" y2="891.4" stroke="#606060" stroke-width="2.3"/>
<line x1="624.00" y1="887.4" x2="624.00" y2="891.4" stroke="#606060" stroke-width="2.3"/>
<line x1="634.90" y1="887.4" x2="634.90" y2="891.4" stroke="#606060" stroke-width="2.3"/>
<line x1="646.20" y1="887.4" x2="646.20" y2="891.4" stroke="#606060" stroke-width="2.3"/>
<line x1="656.90" y1="887.4" x2="656.90" y2="891.4" stroke="#606060" stroke-width="2.3"/>
<line x1="665.10" y1="887.4" x2="665.10" y2="891.4" stroke="#606060" stroke-width="2.3"/>
<line x1="671.30" y1="887.4" x2="671.30" y2="891.4" stroke="#606060" stroke-width="2.3"/>
<line x1="718.50" y1="887.4" x2="718.50" y2="891.4" stroke="#606060" stroke-width="2.3"/>
<line x1="743.70" y1="887.4" x2="743.70" y2="891.4" stroke="#606060" stroke-width="2.3"/>
<line x1="760.30" y1="887.4" x2="760.30" y2="891.4" stroke="#606060" stroke-width="2.3"/>
<line x1="774.30" y1="887.4" x2="774.30" y2="891.4" stroke="#606060" stroke-width="2.3"/>
<line x1="785.50" y1="887.4" x2="785.50" y2="891.4" stroke="#606060" stroke-width="2.3"/>
<line x1="793.50" y1="887.4" x2="793.50" y2="891.4" stroke="#606060" stroke-width="2.3"/>
<line x1="801.80" y1="887.4" x2="801.80" y2="891.4" stroke="#606060" stroke-width="2.3"/>
<line x1="810.10" y1="887.4" x2="810.10" y2="891.4" stroke="#606060" stroke-width="2.3"/>
<line x1="857.60" y1="887.4" x2="857.60" y2="891.4" stroke="#606060" stroke-width="2.3"/>
<line x1="882.50" y1="887.4" x2="882.50" y2="891.4" stroke="#606060" stroke-width="2.3"/>
<line x1="899.50" y1="887.4" x2="899.50" y2="891.4" stroke="#606060" stroke-width="2.3"/>
<line x1="913.40" y1="887.4" x2="913.40" y2="891.4" stroke="#606060" stroke-width="2.3"/>
<line x1="924.40" y1="887.4" x2="924.40" y2="891.4" stroke="#606060" stroke-width="2.3"/>
<line x1="932.70" y1="887.4" x2="932.70" y2="891.4" stroke="#606060" stroke-width="2.3"/>
<line x1="941.00" y1="887.4" x2="941.00" y2="891.4" stroke="#606060" stroke-width="2.3"/>
<line x1="949.30" y1="887.4" x2="949.30" y2="891.4" stroke="#606060" stroke-width="2.3"/>
</g>
<g fill="#000" font-family="'Liberation Sans', sans-serif" text-rendering="geometricPrecision">
<text x="97.30" y="938.5" font-size="30.5">10</text>
<text x="136.27" y="926.5" font-size="26">1</text>
<text x="235.70" y="938.5" font-size="30.5">10</text>
<text x="273.77" y="926.5" font-size="26">2</text>
<text x="375.00" y="938.5" font-size="30.5">10</text>
<text x="413.02" y="926.5" font-size="26">3</text>
<text x="513.70" y="938.5" font-size="30.5">10</text>
<text x="551.22" y="926.5" font-size="26">4</text>
<text x="652.20" y="938.5" font-size="30.5">10</text>
<text x="690.12" y="926.5" font-size="26">5</text>
<text x="790.60" y="938.5" font-size="30.5">10</text>
<text x="828.77" y="926.5" font-size="26">6</text>
<text x="929.10" y="938.5" font-size="30.5">10</text>
<text x="967.27" y="926.5" font-size="26">7</text>
<text transform="translate(92.6,886.00) rotate(-90)" text-anchor="middle" font-size="30.5">0</text>
<text transform="translate(92.6,735.60) rotate(-90)" text-anchor="middle" font-size="30.5">20</text>
<text transform="translate(92.6,582.40) rotate(-90)" text-anchor="middle" font-size="30.5">40</text>
<text transform="translate(92.6,432.40) rotate(-90)" text-anchor="middle" font-size="30.5">60</text>
<text transform="translate(92.6,281.90) rotate(-90)" text-anchor="middle" font-size="30.5">80</text>
<text transform="translate(92.6,129.10) rotate(-90)" text-anchor="middle" font-size="30.5">100</text>
<text transform="translate(92.6,53.98) rotate(-90)" text-anchor="middle" font-size="30.5">110</text>
<text transform="translate(42.7,542.1) rotate(-90)" x="-1.55" font-size="30.5" xml:space="preserve">Count  (%)</text>
<text x="374.1" y="981.7" font-size="33" font-weight="bold">BDNF-iFluor</text>
<text x="570.8" y="970.8" font-size="19.5" font-weight="bold">TM</text>
<text x="607.6" y="981.7" font-size="33" font-weight="bold">488</text>
</g>
</svg>
</body></html>
